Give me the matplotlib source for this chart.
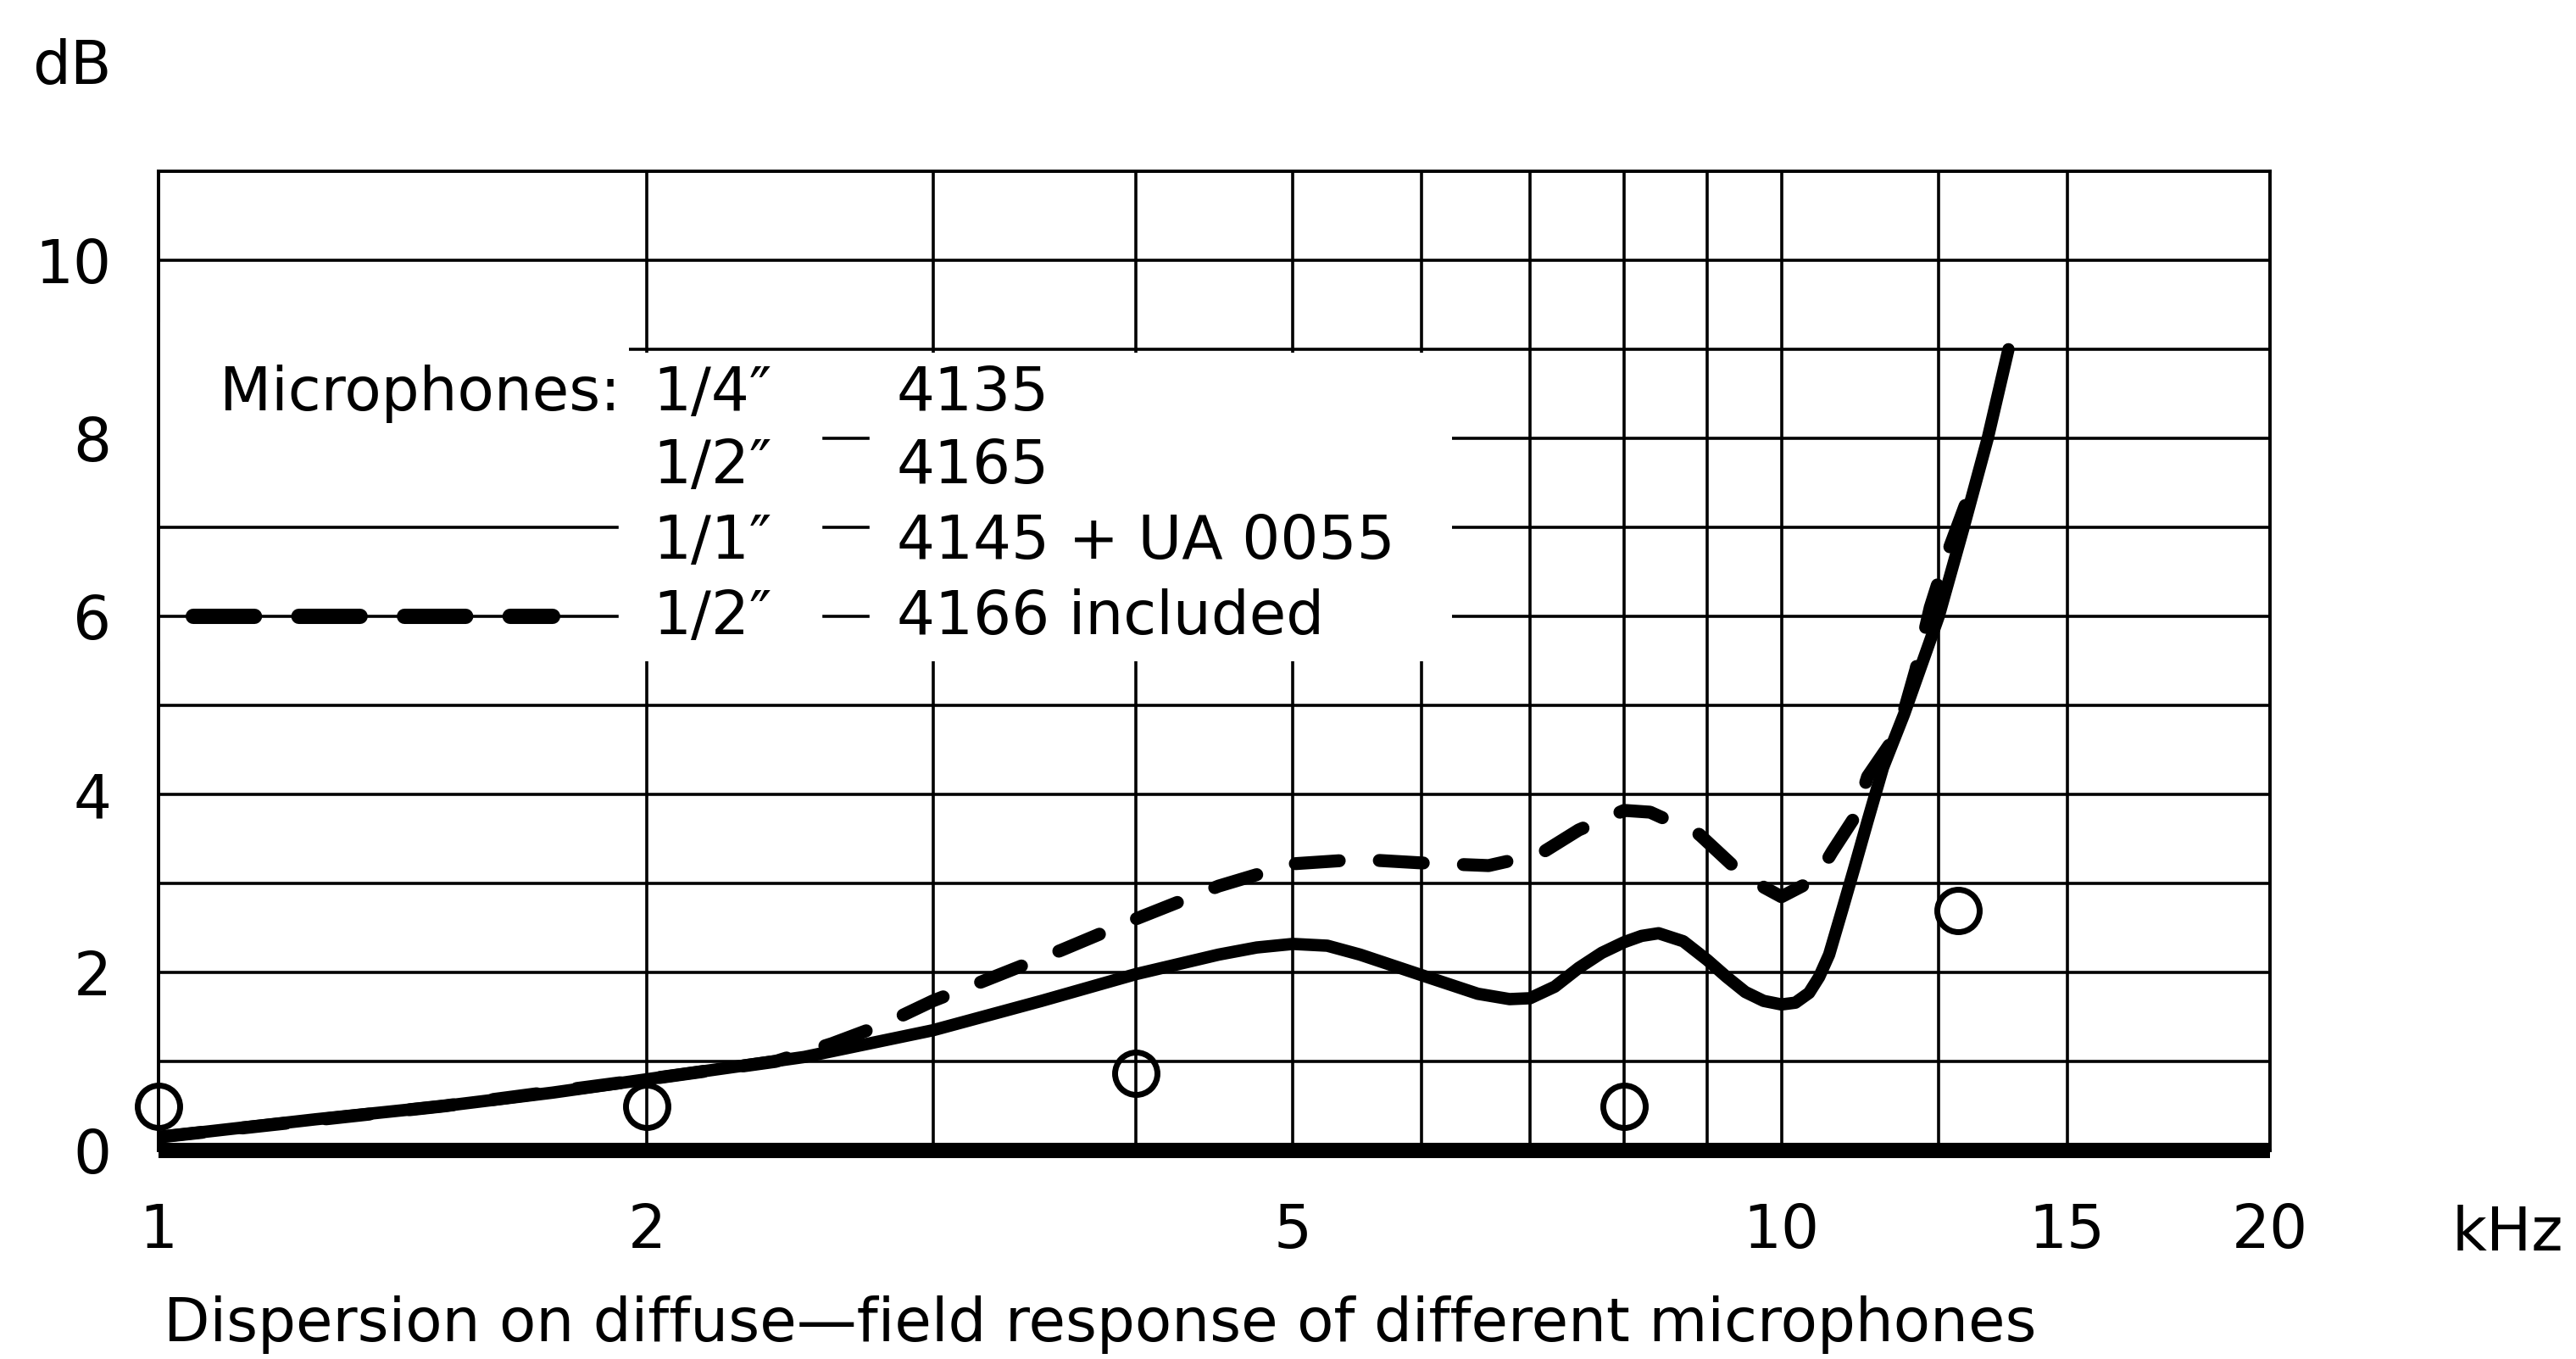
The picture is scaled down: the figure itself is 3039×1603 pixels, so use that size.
import matplotlib.pyplot as plt
from matplotlib.patches import Rectangle
from matplotlib.ticker import FixedLocator, NullFormatter

plt.rcParams['font.family'] = ['DejaVu Sans']

# values (frequency in kHz, level in dB)
freq_solid = [1.0, 1.25, 1.5, 1.75, 2.0, 2.5, 3.0, 3.5, 4.0, 4.5, 4.75, 5.0, 5.25,
              5.5, 6.0, 6.5, 6.8, 7.0, 7.25, 7.5, 7.75, 8.0, 8.2, 8.4, 8.7, 9.0,
              9.25, 9.5, 9.75, 10.0, 10.2, 10.4, 10.55, 10.7, 10.9, 11.1, 11.3,
              11.55, 11.9, 12.5, 12.95, 13.4, 13.8]
db_solid = [0.15, 0.35, 0.5, 0.65, 0.8, 1.05, 1.35, 1.68, 1.98, 2.2, 2.28, 2.32, 2.3,
            2.2, 1.97, 1.76, 1.7, 1.71, 1.84, 2.05, 2.22, 2.34, 2.41, 2.44, 2.35, 2.14,
            1.95, 1.78, 1.68, 1.64, 1.66, 1.77, 1.95, 2.2, 2.7, 3.2, 3.7,
            4.3, 4.9, 6.0, 7.0, 8.0, 9.0]

freq_dash = [1.0, 1.5, 2.0, 2.4, 2.6, 2.8, 3.0, 3.2, 3.6, 4.0, 4.5, 5.0, 5.5, 6.0,
             6.6, 7.1, 7.5, 8.0, 8.3, 8.9, 9.5, 10.0, 10.5, 10.75, 11.1, 11.3,
             11.8, 12.1, 12.35, 12.65, 12.95, 13.2]
db_dash = [0.15, 0.5, 0.8, 1.0, 1.2, 1.42, 1.68, 1.88, 2.25, 2.6, 2.97, 3.22, 3.27, 3.23,
           3.2, 3.33, 3.6, 3.82, 3.8, 3.55, 3.07, 2.85, 3.05, 3.36, 3.75, 4.2,
           4.7, 5.4, 6.1, 6.7, 7.2, 7.6]

freq_ref = [1.0, 20.0]
db_ref = [0.0, 0.0]

freq_pts = [1.0, 2.0, 4.0, 8.0, 12.85]
db_pts = [0.5, 0.5, 0.87, 0.5, 2.7]

x_ticks = [1, 2, 5, 10, 15, 20]
x_tick_labels = ['1', '2', '5', '10', '15', '20']
x_minor = [3, 4, 6, 7, 8, 9, 12.5]
y_ticks = [0, 2, 4, 6, 8, 10]
y_minor = [1, 3, 5, 7, 9]

legend_rows = [
    ('1/4\u2033', '4135'),
    ('1/2\u2033', '4165'),
    ('1/1\u2033', '4145 + UA 0055'),
    ('1/2\u2033', '4166 included'),
]

W, H = 3039, 1603
FS = 51


def fx(px):
    return px / W


def fy(py):
    return 1 - py / H


fig = plt.figure(figsize=(W / 100, H / 100), dpi=100)
ax = fig.add_axes([fx(187), fy(1357), (2678 - 187) / W, (1357 - 202) / H])

ax.set_xscale('log')
ax.set_xlim(1, 20)
ax.set_ylim(0, 11)
ax.xaxis.set_major_locator(FixedLocator(x_ticks))
ax.set_xticklabels(x_tick_labels)
ax.xaxis.set_minor_locator(FixedLocator(x_minor))
ax.xaxis.set_minor_formatter(NullFormatter())
ax.set_yticks(y_ticks)
ax.yaxis.set_minor_locator(FixedLocator(y_minor))
ax.tick_params(which='both', length=0)
ax.tick_params(axis='x', labelsize=FS, pad=44)
ax.tick_params(axis='y', labelsize=FS, pad=40)

ax.set_axisbelow(True)
ax.grid(True, which='both', color='black', lw=2.6)
for s in ax.spines.values():
    s.set_linewidth(2.8)

# white patch of the pasted-on label, hides the grid behind the text
ax.add_patch(Rectangle((1, 5.5), 1.949 - 1, 9.3 - 5.5, facecolor='white',
                       edgecolor='none', zorder=1))
ax.add_patch(Rectangle((1.949, 5.5), 6.27 - 1.949, 8.96 - 5.5, facecolor='white',
                       edgecolor='none', zorder=1))

# legend samples and grid stubs left visible in the label
ax.plot([1, 1.917], [7, 7], color='black', lw=2.6, zorder=1.5)
ax.plot([1, 1.917], [6, 6], color='black', lw=2.6, zorder=1.5)
ax.plot([1.05, 1.75], [6, 6], color='black', lw=13, ls=(0, (4.0, 2.9)),
        dash_capstyle='round', zorder=1.6)
for yy in [8, 7, 6]:
    ax.plot([2.57, 2.735], [yy, yy], color='black', lw=2.6, zorder=1.5)

ax.plot(freq_ref, db_ref, color='black', lw=13, solid_capstyle='butt',
        clip_on=False, zorder=3)
ax.plot(freq_solid, db_solid, color='black', lw=10.5, solid_capstyle='round',
        solid_joinstyle='round', zorder=3)
ax.plot(freq_dash, db_dash, color='black', lw=11, ls=(0, (3.4, 3.1)),
        dash_capstyle='round', dash_joinstyle='round', zorder=3)
ax.plot(freq_pts, db_pts, ls='none', marker='o', ms=36, mfc='none', mec='black',
        mew=5, clip_on=False, zorder=4)

fig.text(fx(38), fy(99), 'dB', fontsize=FS, va='baseline', ha='left')
fig.text(fx(2893), fy(1475), 'kHz', fontsize=FS, va='baseline', ha='left')
fig.text(fx(193), fy(1582), 'Dispersion on diffuse\u2014field response of different microphones',
         fontsize=FS, va='baseline', ha='left')

fig.text(fx(259), fy(484), 'Microphones:', fontsize=FS, va='baseline', ha='left')
row_y = [484, 570, 659, 748]
for (size, name), yb in zip(legend_rows, row_y):
    fig.text(fx(770), fy(yb), size, fontsize=FS, va='baseline', ha='left')
    fig.text(fx(1058), fy(yb), name, fontsize=FS, va='baseline', ha='left')

fig.savefig('out.png', dpi=100)
